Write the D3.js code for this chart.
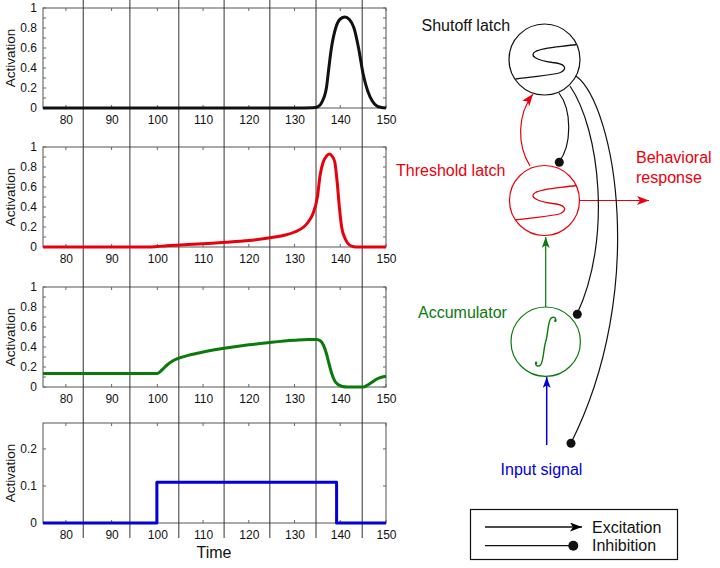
<!DOCTYPE html>
<html><head><meta charset="utf-8">
<script src="https://cdn.jsdelivr.net/npm/d3@7"></script>
<style>
html,body{margin:0;padding:0;background:#fff;}
svg{display:block;font-family:"Liberation Sans",Arial,Helvetica,sans-serif;}
</style></head>
<body>
<svg id="chart" width="720" height="568"></svg>
<script>
// ---------------- data ----------------
const xTicks = [80, 90, 100, 110, 120, 130, 140, 150];
const yTicksFull = [0, 0.2, 0.4, 0.6, 0.8, 1];
const yMinorFull = [0, 0.1, 0.2, 0.3, 0.4, 0.5, 0.6, 0.7, 0.8, 0.9, 1];
const yTicksInput = [0, 0.1, 0.2];
const markerTimes = [83.8, 94, 104.7, 114.6, 124.6, 134.7, 144.8];

const shutoffT = [75, 130, 134, 135, 136, 137, 137.5, 138, 139, 140, 141, 142, 143, 144, 145, 146, 147, 148, 149, 150];
const shutoffV = [0, 0, 0.003, 0.01, 0.06, 0.21, 0.4, 0.58, 0.8, 0.89, 0.91, 0.885, 0.8, 0.6, 0.34, 0.17, 0.07, 0.02, 0.005, 0];

const thresholdT = [75, 98, 100, 102, 105, 110, 115, 120, 125, 128, 130, 132, 133, 134, 135, 135.6, 136.2, 137, 137.6, 138.2, 138.8, 139.3, 139.8, 140.3, 141, 141.6, 142.5, 143.5, 150];
const thresholdV = [0, 0, 0.005, 0.012, 0.02, 0.033, 0.047, 0.065, 0.095, 0.12, 0.15, 0.2, 0.25, 0.33, 0.5, 0.72, 0.84, 0.91, 0.93, 0.91, 0.85, 0.66, 0.4, 0.2, 0.09, 0.04, 0.008, 0, 0];

const accumT = [75, 100, 101, 102, 103.5, 105, 107, 110, 115, 120, 125, 130, 133, 134.8, 135.7, 136.3, 137, 137.5, 138.1, 138.8, 139.5, 140.5, 141.5, 145, 146, 147, 148, 149, 150];
const accumV = [0.135, 0.135, 0.17, 0.215, 0.265, 0.293, 0.32, 0.35, 0.39, 0.422, 0.448, 0.468, 0.476, 0.476, 0.46, 0.42, 0.33, 0.24, 0.14, 0.06, 0.025, 0.005, 0, 0, 0.02, 0.05, 0.08, 0.097, 0.107];

const inputT = [75, 99.9, 99.9, 139.2, 139.2, 150];
const inputV = [0, 0, 0.11, 0.11, 0, 0];

const panelNames = ["shutoff", "threshold", "accum", "input"];
const panelColors = ["#111111", "#e8000b", "#0a7a0a", "#0000d8"];
const panelYMax = [1, 1, 1, 0.27];

// ---------------- layout ----------------
const svg = d3.select("#chart");
const FONT = '"Liberation Sans",Arial,Helvetica,sans-serif';
const x = d3.scaleLinear().domain([75, 150]).range([43, 386]);
const panelTops = [8, 147, 287, 423];
const panelH = 100;

const series = [
  shutoffT.map((t, i) => [t, shutoffV[i]]),
  thresholdT.map((t, i) => [t, thresholdV[i]]),
  accumT.map((t, i) => [t, accumV[i]]),
  inputT.map((t, i) => [t, inputV[i]])
];

panelNames.forEach((name, p) => {
  const top = panelTops[p];
  const y = d3.scaleLinear().domain([0, panelYMax[p]]).range([top + panelH, top]);
  const g = svg.append("g").attr("class", "panel-" + name);

  g.append("rect").attr("x", x.range()[0]).attr("y", top)
    .attr("width", x.range()[1] - x.range()[0]).attr("height", panelH)
    .attr("fill", "#fff").attr("stroke", "#555").attr("stroke-width", 1);

  const majors = p < 3 ? yTicksFull : yTicksInput;
  const minors = p < 3 ? yMinorFull : yTicksInput;

  const la = g.append("g").attr("transform", `translate(${x.range()[0]},0)`)
    .call(d3.axisLeft(y).tickValues(majors).tickSizeInner(0).tickSizeOuter(0).tickPadding(6)
      .tickFormat(d => d3.format("~g")(d)));
  la.select(".domain").remove();
  la.selectAll("text").attr("font-size", 12).attr("font-family", FONT).attr("fill", "#111");
  g.append("g").selectAll("line").data(minors).join("line")
    .attr("x1", x.range()[0]).attr("x2", x.range()[0] + 3)
    .attr("y1", d => y(d)).attr("y2", d => y(d)).attr("stroke", "#666");
  g.append("g").selectAll("line").data(minors).join("line")
    .attr("x1", x.range()[1]).attr("x2", x.range()[1] - 3)
    .attr("y1", d => y(d)).attr("y2", d => y(d)).attr("stroke", "#666");

  const ba = g.append("g").attr("transform", `translate(0,${top + panelH})`)
    .call(d3.axisBottom(x).tickValues(xTicks).tickSizeInner(0).tickSizeOuter(0).tickPadding(7));
  ba.select(".domain").remove();
  ba.selectAll("text").attr("font-size", 12).attr("font-family", FONT).attr("fill", "#111");
  g.append("g").selectAll("line").data(xTicks).join("line")
    .attr("x1", d => x(d)).attr("x2", d => x(d))
    .attr("y1", top + panelH).attr("y2", top + panelH - 3).attr("stroke", "#666");
  g.append("g").selectAll("line").data(xTicks).join("line")
    .attr("x1", d => x(d)).attr("x2", d => x(d))
    .attr("y1", top).attr("y2", top + 3).attr("stroke", "#666");

  g.append("text").attr("transform", `translate(15,${top + panelH / 2}) rotate(-90)`)
    .attr("text-anchor", "middle").attr("font-size", 13.5).attr("font-family", FONT)
    .attr("fill", "#111").text("Activation");
});

svg.append("g").selectAll("line").data(markerTimes).join("line")
  .attr("x1", d => x(d)).attr("x2", d => x(d))
  .attr("y1", 0).attr("y2", 538)
  .attr("stroke", "#333").attr("stroke-width", 1);

panelNames.forEach((name, p) => {
  const top = panelTops[p];
  const y = d3.scaleLinear().domain([0, panelYMax[p]]).range([top + panelH, top]);
  const line = d3.line().x(d => x(d[0])).y(d => y(d[1]))
    .curve(p === 3 ? d3.curveLinear : d3.curveMonotoneX);
  svg.append("path").datum(series[p]).attr("d", line)
    .attr("fill", "none").attr("stroke", panelColors[p]).attr("stroke-width", 3)
    .attr("stroke-linejoin", "round");
});

svg.append("text").attr("x", 214).attr("y", 558).attr("text-anchor", "middle")
  .attr("font-size", 16).attr("font-family", FONT).attr("fill", "#111").text("Time");

// ---------------- diagram ----------------
const defs = svg.append("defs");
function marker(id, color, w, h) {
  defs.append("marker").attr("id", id).attr("viewBox", `0 0 ${w} ${h}`)
    .attr("refX", w).attr("refY", h / 2).attr("markerWidth", w).attr("markerHeight", h)
    .attr("markerUnits", "userSpaceOnUse").attr("orient", "auto")
    .append("path").attr("d", `M0,0L${w},${h / 2}L0,${h}L${w * 0.25},${h / 2}Z`).attr("fill", color);
}
marker("arrRed", "#e8000b", 12, 9);
marker("arrGreen", "#0a7a0a", 11, 8);
marker("arrBlue", "#0000d8", 11, 8);
marker("arrBlack", "#000", 12, 9);

const dg = svg.append("g").attr("fill", "none");
const nodes = {
  shutoff: { cx: 544.5, cy: 59.5, r: 35.5, color: "#111" },
  threshold: { cx: 544.5, cy: 200.5, r: 35, color: "#e8000b" },
  accum: { cx: 545.7, cy: 341.7, r: 34.7, color: "#0a7a0a" }
};
Object.values(nodes).forEach(n => {
  dg.append("circle").attr("cx", n.cx).attr("cy", n.cy).attr("r", n.r)
    .attr("stroke", n.color).attr("stroke-width", 1.2).attr("fill", "#fff");
});
function sCurve(n) {
  const c = n.cx, m = n.cy;
  return `M${c - 29},${m + 19.5} C${c - 10},${m + 16.5} ${c + 8},${m + 16} ${c + 16},${m + 13}` +
    ` C${c + 24},${m + 9} ${c + 20},${m + 4} ${c + 8},${m + 3}` +
    ` C${c - 8},${m + 1} ${c - 16},${m - 4} ${c - 9},${m - 8}` +
    ` C${c - 3},${m - 12} ${c + 14},${m - 12.5} ${c + 32},${m - 15}`;
}
dg.append("path").attr("d", sCurve(nodes.shutoff)).attr("stroke", "#111").attr("stroke-width", 1.3);
dg.append("path").attr("d", sCurve(nodes.threshold)).attr("stroke", "#e8000b").attr("stroke-width", 1.3);

// integral sign (drawn as a thin slanted stroke)
{
  const c = nodes.accum.cx, m = nodes.accum.cy;
  dg.append("path").attr("d",
    `M${c + 10},${m - 21} C${c + 10.5},${m - 24.5} ${c + 7},${m - 25.5} ${c + 5},${m - 23}` +
    ` C${c + 2},${m - 19} ${c + 2},${m - 5} ${c},${m}` +
    ` C${c - 2},${m + 5} ${c - 2},${m + 19} ${c - 5},${m + 23}` +
    ` C${c - 7},${m + 25.5} ${c - 10.5},${m + 24.5} ${c - 10},${m + 21}`)
    .attr("stroke", "#0a7a0a").attr("stroke-width", 1.4).attr("stroke-linecap", "round");
  svg.append("circle").attr("cx", c + 9.6).attr("cy", m - 21).attr("r", 1.2).attr("fill", "#0a7a0a");
  svg.append("circle").attr("cx", c - 9.6).attr("cy", m + 21).attr("r", 1.2).attr("fill", "#0a7a0a");
}

dg.append("path").attr("d", "M530,166 C517,145 517,115 533,94")
  .attr("stroke", "#e8000b").attr("stroke-width", 1.2).attr("marker-end", "url(#arrRed)");
dg.append("path").attr("d", "M579.5,200.5 L649,200.5")
  .attr("stroke", "#e8000b").attr("stroke-width", 1.2).attr("marker-end", "url(#arrRed)");
dg.append("path").attr("d", "M545.7,307 L545.7,237")
  .attr("stroke", "#0a7a0a").attr("stroke-width", 1.2).attr("marker-end", "url(#arrGreen)");
dg.append("path").attr("d", "M546.7,445 L546.7,377")
  .attr("stroke", "#0000d8").attr("stroke-width", 1.5).attr("marker-end", "url(#arrBlue)");

const inhib = [
  { d: "M559,93 C572,110 572,145 559,162", end: [559.3, 162.3] },
  { d: "M570,86 C600,130 612,240 577,314", end: [577.3, 314.3] },
  { d: "M576,76 C615,105 648,290 571,443", end: [571, 443.3] }
];
inhib.forEach(c => {
  dg.append("path").attr("d", c.d).attr("stroke", "#111").attr("stroke-width", 1.2);
  svg.append("circle").attr("cx", c.end[0]).attr("cy", c.end[1]).attr("r", 4.5).attr("fill", "#111");
});

function label(txt, xx, yy, color, anchor) {
  svg.append("text").attr("x", xx).attr("y", yy).attr("text-anchor", anchor || "start")
    .attr("font-size", 16).attr("font-family", FONT).attr("fill", color).text(txt);
}
label("Shutoff latch", 421.5, 30.5, "#111");
label("Threshold latch", 396, 175.5, "#e8000b");
label("Behavioral", 636, 162.5, "#e8000b");
label("response", 636, 182.5, "#e8000b");
label("Accumulator", 418, 318, "#0a7a0a");
label("Input signal", 541.5, 474.5, "#0000d8", "middle");

svg.append("rect").attr("x", 470.5).attr("y", 509.5).attr("width", 207).attr("height", 50)
  .attr("fill", "#fff").attr("stroke", "#111").attr("stroke-width", 1.2);
svg.append("path").attr("d", "M485,527 L582,527").attr("stroke", "#111").attr("stroke-width", 1.3)
  .attr("fill", "none").attr("marker-end", "url(#arrBlack)");
svg.append("path").attr("d", "M485,545.7 L573,545.7").attr("stroke", "#111").attr("stroke-width", 1.3);
svg.append("circle").attr("cx", 573.3).attr("cy", 545.7).attr("r", 5).attr("fill", "#111");
label("Excitation", 592, 532.5, "#111");
label("Inhibition", 592, 551, "#111");
</script>
</body></html>
